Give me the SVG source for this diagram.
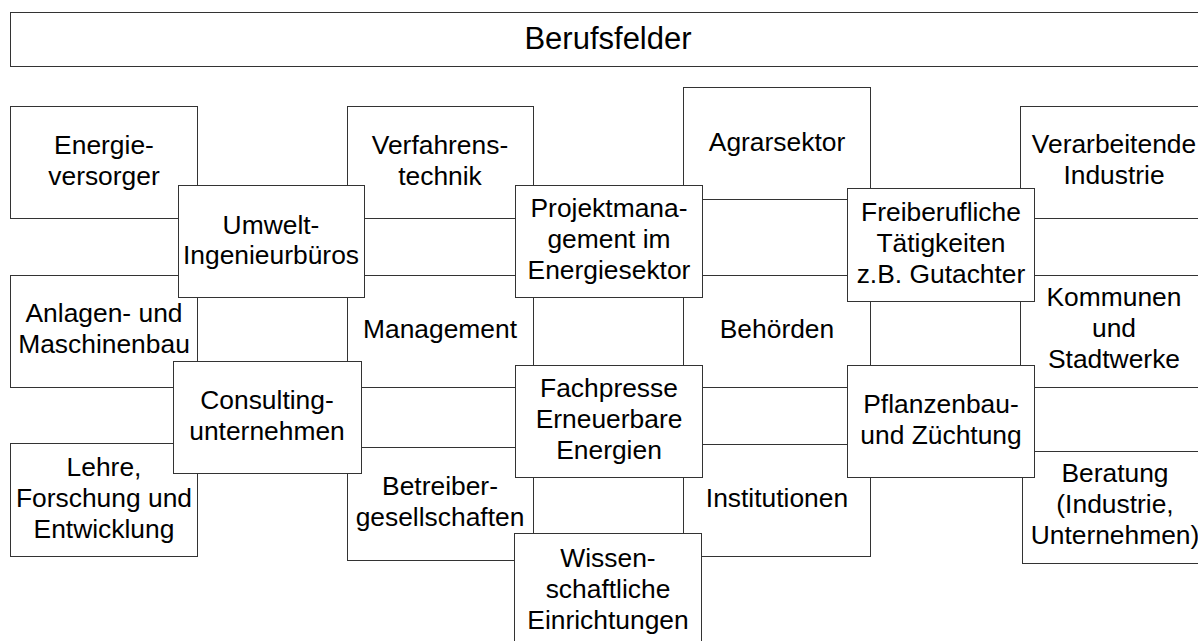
<svg xmlns="http://www.w3.org/2000/svg" width="1198" height="641" viewBox="0 0 1198 641">
<style>
.b{fill:#fff;stroke:#333;stroke-width:1}
.t{font-family:"Liberation Sans",Arial,sans-serif;font-size:26.4px;fill:#000;text-anchor:middle}
.h{font-family:"Liberation Sans",Arial,sans-serif;font-size:31px;fill:#000;text-anchor:middle}
</style>
<rect width="1198" height="641" fill="#fff"/>
<g id="berufsfelder"><rect class="b" x="10.5" y="12.5" width="1197" height="54"/><text class="h" x="608" y="49">Berufsfelder</text></g>
<g id="energieversorger"><rect class="b" x="10.5" y="106.5" width="187" height="112"/><text class="t"><tspan x="104" y="154">Energie-</tspan><tspan x="104" y="185">versorger</tspan></text></g>
<g id="anlagenbau"><rect class="b" x="10.5" y="275.5" width="187" height="112"/><text class="t"><tspan x="104" y="322">Anlagen- und</tspan><tspan x="104" y="353">Maschinenbau</tspan></text></g>
<g id="lehre"><rect class="b" x="10.5" y="443.5" width="187" height="113"/><text class="t"><tspan x="104" y="476">Lehre,</tspan><tspan x="104" y="507">Forschung und</tspan><tspan x="104" y="538">Entwicklung</tspan></text></g>
<g id="verfahrenstechnik"><rect class="b" x="347.5" y="106.5" width="186" height="112"/><text class="t"><tspan x="440" y="154">Verfahrens-</tspan><tspan x="440" y="185">technik</tspan></text></g>
<g id="management"><rect class="b" x="347.5" y="275.5" width="186" height="112"/><text class="t" x="440" y="338">Management</text></g>
<g id="betreibergesellschaften"><rect class="b" x="347.5" y="447.5" width="186" height="113"/><text class="t"><tspan x="440" y="495">Betreiber-</tspan><tspan x="440" y="526">gesellschaften</tspan></text></g>
<g id="agrarsektor"><rect class="b" x="683.5" y="87.5" width="187" height="112"/><text class="t" x="777" y="150.5">Agrarsektor</text></g>
<g id="behoerden"><rect class="b" x="683.5" y="275.5" width="187" height="112"/><text class="t" x="777" y="338">Behörden</text></g>
<g id="institutionen"><rect class="b" x="683.5" y="444.5" width="187" height="112"/><text class="t" x="777" y="507">Institutionen</text></g>
<g id="verarbeitende-industrie"><rect class="b" x="1020.5" y="106.5" width="187" height="112"/><text class="t"><tspan x="1114" y="153">Verarbeitende</tspan><tspan x="1114" y="184">Industrie</tspan></text></g>
<g id="kommunen"><rect class="b" x="1020.5" y="275.5" width="187" height="112"/><text class="t"><tspan x="1114" y="306">Kommunen</tspan><tspan x="1114" y="337">und</tspan><tspan x="1114" y="368">Stadtwerke</tspan></text></g>
<g id="beratung"><rect class="b" x="1022.5" y="451.5" width="187" height="112"/><text class="t"><tspan x="1115" y="482">Beratung</tspan><tspan x="1115" y="513">(Industrie,</tspan><tspan x="1115" y="544">Unternehmen)</tspan></text></g>
<g id="umwelt-ingenieurbueros"><rect class="b" x="178.5" y="185.5" width="186" height="112"/><text class="t"><tspan x="271" y="234">Umwelt-</tspan><tspan x="271" y="264">Ingenieurbüros</tspan></text></g>
<g id="consultingunternehmen"><rect class="b" x="173.5" y="361.5" width="188" height="112"/><text class="t"><tspan x="267" y="409">Consulting-</tspan><tspan x="267" y="440">unternehmen</tspan></text></g>
<g id="projektmanagement"><rect class="b" x="515.5" y="185.5" width="187" height="112"/><text class="t"><tspan x="609" y="217">Projektmana-</tspan><tspan x="609" y="248">gement im</tspan><tspan x="609" y="279">Energiesektor</tspan></text></g>
<g id="fachpresse"><rect class="b" x="515.5" y="365.5" width="187" height="112"/><text class="t"><tspan x="609" y="397">Fachpresse</tspan><tspan x="609" y="428">Erneuerbare</tspan><tspan x="609" y="459">Energien</tspan></text></g>
<g id="wissenschaftliche-einrichtungen"><rect class="b" x="514.5" y="533.5" width="187" height="114"/><text class="t"><tspan x="608" y="567">Wissen-</tspan><tspan x="608" y="598">schaftliche</tspan><tspan x="608" y="629">Einrichtungen</tspan></text></g>
<g id="freiberufliche"><rect class="b" x="847.5" y="188.5" width="187" height="113"/><text class="t"><tspan x="941" y="221">Freiberufliche</tspan><tspan x="941" y="252">Tätigkeiten</tspan><tspan x="941" y="283">z.B. Gutachter</tspan></text></g>
<g id="pflanzenbau"><rect class="b" x="847.5" y="365.5" width="187" height="112"/><text class="t"><tspan x="941" y="413">Pflanzenbau-</tspan><tspan x="941" y="444">und Züchtung</tspan></text></g>
<g id="connectors"></g>
</svg>
